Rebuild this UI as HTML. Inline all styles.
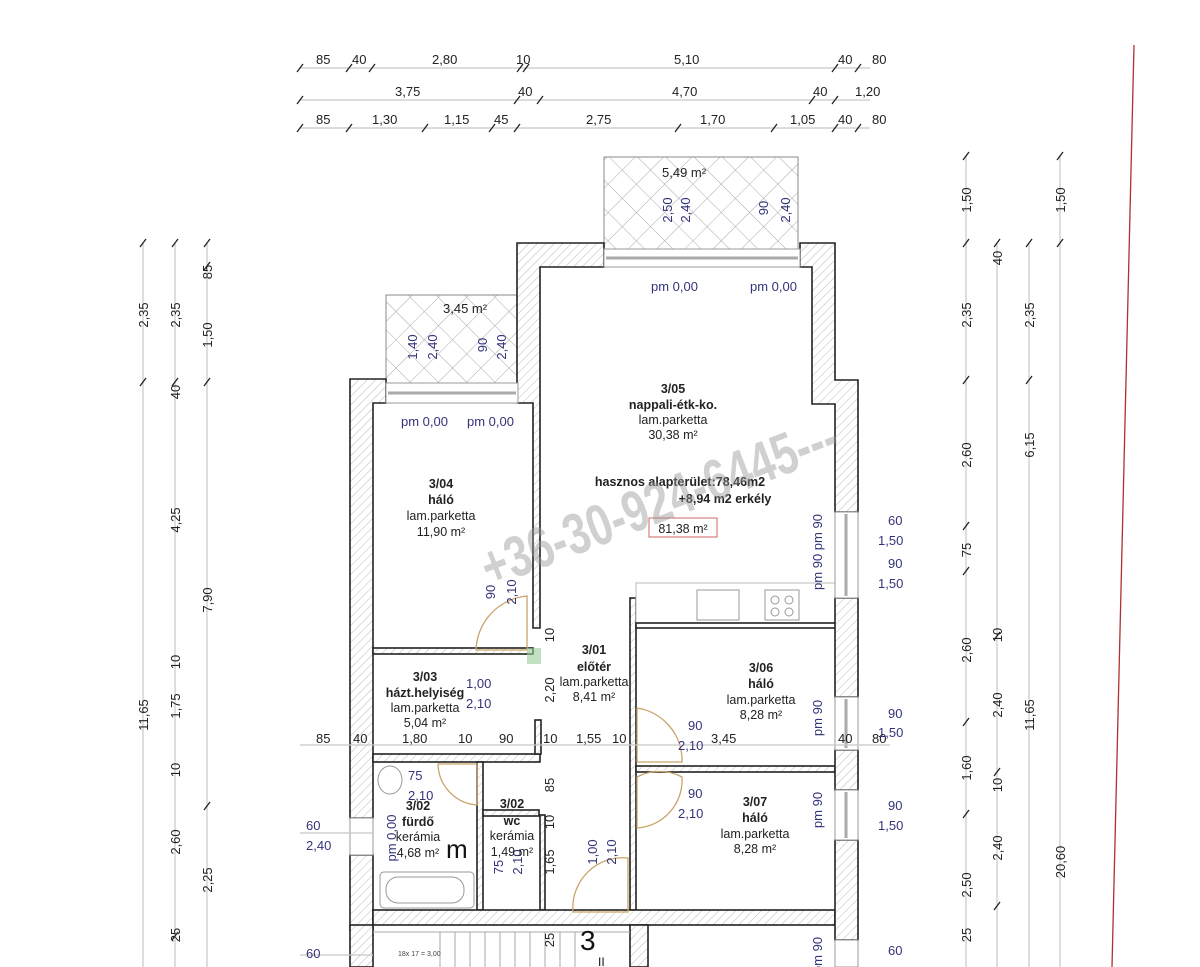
<!DOCTYPE html>
<html><head><meta charset="utf-8"><style>
html,body{margin:0;padding:0;background:#fff;}
svg{display:block;font-family:"Liberation Sans",sans-serif;}
.d{font-size:13px;fill:#222;}
.b{font-size:13px;fill:#33337a;}
.r{font-size:12.5px;fill:#222;text-anchor:middle;}
.rb{font-size:12.5px;fill:#222;text-anchor:middle;font-weight:bold;}
.dl{stroke:#c8c8c8;stroke-width:1.2;}
.tk{stroke:#222;stroke-width:1.3;}
.w{fill:url(#hatch);stroke:#222;stroke-width:1.6;}
.in{fill:none;stroke:#222;stroke-width:2;}
.dr{fill:none;stroke:#c9a36a;stroke-width:1.3;}
</style></head><body>
<svg width="1200" height="967" viewBox="0 0 1200 967" xmlns="http://www.w3.org/2000/svg">
<defs>
<pattern id="hatch" width="6" height="6" patternUnits="userSpaceOnUse" patternTransform="rotate(45)">
<rect width="6" height="6" fill="#fff"/><line x1="0" y1="0" x2="0" y2="6" stroke="#bbb" stroke-width="1"/></pattern>
<pattern id="cross" width="20" height="20" patternUnits="userSpaceOnUse" patternTransform="rotate(45)">
<rect width="20" height="20" fill="#fff"/><line x1="0" y1="0" x2="0" y2="20" stroke="#aaa" stroke-width="1"/><line x1="0" y1="0" x2="20" y2="0" stroke="#aaa" stroke-width="1"/></pattern>
</defs>

<!-- red line -->
<line x1="1134" y1="45" x2="1112" y2="967" stroke="#b03030" stroke-width="1.3"/>

<!-- top dimension rows -->
<g>
<line class="dl" x1="300" y1="68" x2="870" y2="68"/>
<line class="dl" x1="300" y1="100" x2="870" y2="100"/>
<line class="dl" x1="300" y1="128" x2="870" y2="128"/>
<g class="tk">
<path d="M297 72l6-8M346 72l6-8M369 72l6-8M517 72l6-8M523 72l6-8M832 72l6-8M855 72l6-8"/>
<path d="M297 104l6-8M514 104l6-8M537 104l6-8M809 104l6-8M832 104l6-8"/>
<path d="M297 132l6-8M346 132l6-8M422 132l6-8M489 132l6-8M514 132l6-8M675 132l6-8M771 132l6-8M832 132l6-8M855 132l6-8"/>
</g>
<g class="d">
<text x="316" y="64">85</text><text x="352" y="64">40</text><text x="432" y="64">2,80</text><text x="516" y="64">10</text><text x="674" y="64">5,10</text><text x="838" y="64">40</text><text x="872" y="64">80</text>
<text x="395" y="96">3,75</text><text x="518" y="96">40</text><text x="672" y="96">4,70</text><text x="813" y="96">40</text><text x="855" y="96">1,20</text>
<text x="316" y="124">85</text><text x="372" y="124">1,30</text><text x="444" y="124">1,15</text><text x="494" y="124">45</text><text x="586" y="124">2,75</text><text x="700" y="124">1,70</text><text x="790" y="124">1,05</text><text x="838" y="124">40</text><text x="872" y="124">80</text>
</g>
</g>

<!-- left vertical dims -->
<g>
<line class="dl" x1="143" y1="243" x2="143" y2="967"/>
<line class="dl" x1="175" y1="243" x2="175" y2="967"/>
<line class="dl" x1="207" y1="243" x2="207" y2="967"/>
<g class="tk"><path d="M140 247l6-8M140 386l6-8M172 247l6-8M172 386l6-8M204 247l6-8M204 270l6-8M204 386l6-8M204 810l6-8M172 940l6-8"/></g>
<g class="d">
<text transform="translate(148,315) rotate(-90)" text-anchor="middle">2,35</text>
<text transform="translate(148,715) rotate(-90)" text-anchor="middle">11,65</text>
<text transform="translate(180,315) rotate(-90)" text-anchor="middle">2,35</text>
<text transform="translate(180,392) rotate(-90)" text-anchor="middle">40</text>
<text transform="translate(180,520) rotate(-90)" text-anchor="middle">4,25</text>
<text transform="translate(180,662) rotate(-90)" text-anchor="middle">10</text>
<text transform="translate(180,706) rotate(-90)" text-anchor="middle">1,75</text>
<text transform="translate(180,770) rotate(-90)" text-anchor="middle">10</text>
<text transform="translate(180,842) rotate(-90)" text-anchor="middle">2,60</text>
<text transform="translate(180,935) rotate(-90)" text-anchor="middle">25</text>
<text transform="translate(212,272) rotate(-90)" text-anchor="middle">85</text>
<text transform="translate(212,335) rotate(-90)" text-anchor="middle">1,50</text>
<text transform="translate(212,600) rotate(-90)" text-anchor="middle">7,90</text>
<text transform="translate(212,880) rotate(-90)" text-anchor="middle">2,25</text>
</g>
</g>

<!-- right vertical dims -->
<g>
<line class="dl" x1="966" y1="155" x2="966" y2="967"/>
<line class="dl" x1="997" y1="243" x2="997" y2="967"/>
<line class="dl" x1="1029" y1="243" x2="1029" y2="967"/>
<line class="dl" x1="1060" y1="155" x2="1060" y2="967"/>
<g class="tk"><path d="M963 160l6-8M963 247l6-8M963 384l6-8M963 530l6-8M963 575l6-8M963 726l6-8M963 818l6-8M994 247l6-8M994 640l6-8M994 776l6-8M994 910l6-8M1026 247l6-8M1026 384l6-8M1057 160l6-8M1057 247l6-8"/></g>
<g class="d">
<text transform="translate(971,200) rotate(-90)" text-anchor="middle">1,50</text>
<text transform="translate(971,315) rotate(-90)" text-anchor="middle">2,35</text>
<text transform="translate(971,455) rotate(-90)" text-anchor="middle">2,60</text>
<text transform="translate(971,550) rotate(-90)" text-anchor="middle">75</text>
<text transform="translate(971,650) rotate(-90)" text-anchor="middle">2,60</text>
<text transform="translate(971,768) rotate(-90)" text-anchor="middle">1,60</text>
<text transform="translate(971,885) rotate(-90)" text-anchor="middle">2,50</text>
<text transform="translate(971,935) rotate(-90)" text-anchor="middle">25</text>
<text transform="translate(1002,258) rotate(-90)" text-anchor="middle">40</text>
<text transform="translate(1002,635) rotate(-90)" text-anchor="middle">10</text>
<text transform="translate(1002,705) rotate(-90)" text-anchor="middle">2,40</text>
<text transform="translate(1002,785) rotate(-90)" text-anchor="middle">10</text>
<text transform="translate(1002,848) rotate(-90)" text-anchor="middle">2,40</text>
<text transform="translate(1034,315) rotate(-90)" text-anchor="middle">2,35</text>
<text transform="translate(1034,445) rotate(-90)" text-anchor="middle">6,15</text>
<text transform="translate(1034,715) rotate(-90)" text-anchor="middle">11,65</text>
<text transform="translate(1065,200) rotate(-90)" text-anchor="middle">1,50</text>
<text transform="translate(1065,862) rotate(-90)" text-anchor="middle">20,60</text>
</g>
</g>

<!-- balconies -->
<rect x="604" y="157" width="194" height="92" fill="url(#cross)" stroke="#888" stroke-width="1"/>
<rect x="386" y="295" width="132" height="88" fill="url(#cross)" stroke="#888" stroke-width="1"/>
<text x="662" y="177" class="d" fill="#222">5,49 m²</text>
<text x="443" y="313" class="d">3,45 m²</text>
<g class="b">
<text transform="translate(672,210) rotate(-90)" text-anchor="middle">2,50</text>
<text transform="translate(690,210) rotate(-90)" text-anchor="middle">2,40</text>
<text transform="translate(768,208) rotate(-90)" text-anchor="middle">90</text>
<text transform="translate(790,210) rotate(-90)" text-anchor="middle">2,40</text>
<text transform="translate(417,347) rotate(-90)" text-anchor="middle">1,40</text>
<text transform="translate(437,347) rotate(-90)" text-anchor="middle">2,40</text>
<text transform="translate(487,345) rotate(-90)" text-anchor="middle">90</text>
<text transform="translate(506,347) rotate(-90)" text-anchor="middle">2,40</text>
</g>

<!-- walls -->
<!-- living room block -->
<path class="w" d="M517 243 H604 V267 H540 V628 H533 V403 H517 Z"/>
<path class="w" d="M800 243 H835 V380 H858 V512 H835 V404 H812 V267 H800 Z"/>
<rect x="604" y="249" width="196" height="18" fill="#fff" stroke="#999" stroke-width="1"/>
<line x1="606" y1="258" x2="798" y2="258" stroke="#aaa" stroke-width="3"/>
<!-- 3/04 block -->
<path class="w" d="M350 379 H386 V403 H373 V818 H350 Z"/>
<rect x="386" y="383" width="132" height="20" fill="#fff" stroke="#999"/>
<line x1="388" y1="393" x2="516" y2="393" stroke="#aaa" stroke-width="3"/>
<rect x="350" y="855" width="23" height="75" class="w"/>
<rect x="350" y="818" width="23" height="37" fill="#fff" stroke="#999"/>
<!-- inner walls -->
<rect x="373" y="648" width="160" height="6" class="w"/>
<rect x="373" y="754" width="167" height="8" class="w"/>
<rect x="535" y="720" width="6" height="34" class="w"/>
<rect x="477" y="762" width="6" height="148" class="w"/>
<rect x="483" y="810" width="56" height="6" class="w"/>
<rect x="540" y="815" width="5" height="95" class="w"/>
<rect x="630" y="598" width="6" height="312" class="w"/>
<rect x="636" y="583" width="200" height="45" fill="#fff" stroke="#bbb"/>
<rect x="636" y="623" width="200" height="5" fill="#fff" stroke="#222" stroke-width="1.6"/>
<rect x="636" y="766" width="199" height="6" class="w"/>
<rect x="373" y="910" width="462" height="15" class="w"/>
<rect x="350" y="925" width="23" height="42" class="w"/>
<rect x="630" y="925" width="18" height="42" class="w"/>
<!-- right wall -->
<rect x="835" y="598" width="23" height="99" class="w"/>
<rect x="835" y="750" width="23" height="40" class="w"/>
<rect x="835" y="840" width="23" height="100" class="w"/>
<rect x="835" y="512" width="23" height="86" fill="#fff" stroke="#999"/>
<rect x="835" y="697" width="23" height="53" fill="#fff" stroke="#999"/>
<rect x="835" y="790" width="23" height="50" fill="#fff" stroke="#999"/>
<rect x="835" y="940" width="23" height="27" fill="#fff" stroke="#999"/>
<line x1="846" y1="514" x2="846" y2="596" stroke="#aaa" stroke-width="3"/>
<line x1="846" y1="699" x2="846" y2="748" stroke="#aaa" stroke-width="3"/>
<line x1="846" y1="792" x2="846" y2="838" stroke="#aaa" stroke-width="3"/>

<!-- kitchen appliances -->
<rect x="697" y="590" width="42" height="30" fill="none" stroke="#999"/>
<rect x="765" y="590" width="34" height="30" fill="none" stroke="#999"/>
<circle cx="775" cy="600" r="4" fill="none" stroke="#999"/><circle cx="789" cy="600" r="4" fill="none" stroke="#999"/>
<circle cx="775" cy="612" r="4" fill="none" stroke="#999"/><circle cx="789" cy="612" r="4" fill="none" stroke="#999"/>

<!-- bathroom fixtures -->
<ellipse cx="390" cy="780" rx="12" ry="14" fill="none" stroke="#999"/>
<rect x="380" y="872" width="94" height="36" rx="4" fill="none" stroke="#999"/>
<rect x="386" y="877" width="78" height="26" rx="12" fill="none" stroke="#999"/>

<!-- doors -->
<path class="dr" d="M476 650 A56 56 0 0 1 527 596 V650 Z"/>
<path class="dr" d="M637 708 A53 53 0 0 1 682 762 H637 Z"/>
<path class="dr" d="M637 777 A48 48 0 0 1 682 777 A48 48 0 0 1 637 828 Z"/>
<path class="dr" d="M477 764 V805 A42 42 0 0 1 438 764 Z"/>
<path class="dr" d="M573 912 A50 50 0 0 1 628 858 V912 Z"/>
<rect x="527" y="648" width="14" height="16" fill="#9c9" opacity="0.6"/>

<!-- stairs -->
<g stroke="#aaa" stroke-width="1">
<line x1="373" y1="932" x2="630" y2="932"/>
<line x1="440" y1="932" x2="440" y2="967"/><line x1="455" y1="932" x2="455" y2="967"/>
<line x1="470" y1="932" x2="470" y2="967"/><line x1="485" y1="932" x2="485" y2="967"/>
<line x1="500" y1="932" x2="500" y2="967"/><line x1="515" y1="932" x2="515" y2="967"/>
<line x1="530" y1="932" x2="530" y2="967"/><line x1="545" y1="932" x2="545" y2="967"/>
<line x1="560" y1="932" x2="560" y2="967"/><line x1="575" y1="932" x2="575" y2="967"/>
</g>
<text x="580" y="950" font-size="28" fill="#111">3</text>
<text x="598" y="966" font-size="12" fill="#111">II</text>
<text x="398" y="956" font-size="7" fill="#444">18x 17 = 3,00</text>

<!-- inner dim lines (light) -->
<line class="dl" x1="300" y1="745" x2="890" y2="745"/>
<line class="dl" x1="300" y1="833" x2="373" y2="833"/>
<line class="dl" x1="300" y1="955" x2="373" y2="955"/>
<g class="d">
<text x="316" y="743">85</text><text x="353" y="743">40</text><text x="402" y="743">1,80</text><text x="458" y="743">10</text><text x="499" y="743">90</text><text x="543" y="743">10</text><text x="576" y="743">1,55</text><text x="612" y="743">10</text><text x="711" y="743">3,45</text><text x="838" y="743">40</text><text x="872" y="743">80</text>
</g>
<g class="b">
<text x="306" y="830">60</text><text x="306" y="850">2,40</text>
<text x="306" y="958">60</text>
<text x="888" y="525">60</text><text x="878" y="545">1,50</text><text x="888" y="568">90</text><text x="878" y="588">1,50</text>
<text x="888" y="718">90</text><text x="878" y="737">1,50</text>
<text x="888" y="810">90</text><text x="878" y="830">1,50</text>
<text x="888" y="955">60</text>
<text x="651" y="291">pm 0,00</text><text x="750" y="291">pm 0,00</text>
<text x="401" y="426">pm 0,00</text><text x="467" y="426">pm 0,00</text>
<text transform="translate(822,552) rotate(-90)" text-anchor="middle">pm 90  pm 90</text>
<text transform="translate(822,718) rotate(-90)" text-anchor="middle">pm 90</text>
<text transform="translate(822,810) rotate(-90)" text-anchor="middle">pm 90</text>
<text transform="translate(822,955) rotate(-90)" text-anchor="middle">pm 90</text>
<text transform="translate(495,592) rotate(-90)" text-anchor="middle">90</text>
<text transform="translate(516,592) rotate(-90)" text-anchor="middle">2,10</text>
<text x="466" y="688">1,00</text><text x="466" y="708">2,10</text>
<text x="688" y="730">90</text><text x="678" y="750">2,10</text>
<text x="688" y="798">90</text><text x="678" y="818">2,10</text>
<text x="408" y="780">75</text><text x="408" y="800">2,10</text>
<text transform="translate(396,838) rotate(-90)" text-anchor="middle">pm 0,00</text>
<text transform="translate(503,867) rotate(-90)" text-anchor="middle">75</text>
<text transform="translate(522,862) rotate(-90)" text-anchor="middle">2,10</text>
<text transform="translate(597,852) rotate(-90)" text-anchor="middle">1,00</text>
<text transform="translate(616,852) rotate(-90)" text-anchor="middle">2,10</text>
</g>
<g class="d">
<text transform="translate(554,635) rotate(-90)" text-anchor="middle">10</text>
<text transform="translate(554,690) rotate(-90)" text-anchor="middle">2,20</text>
<text transform="translate(554,785) rotate(-90)" text-anchor="middle">85</text>
<text transform="translate(554,822) rotate(-90)" text-anchor="middle">10</text>
<text transform="translate(554,862) rotate(-90)" text-anchor="middle">1,65</text>
<text transform="translate(554,940) rotate(-90)" text-anchor="middle">25</text>
</g>

<!-- room labels -->
<text x="673" y="393" class="rb">3/05</text>
<text x="673" y="409" class="rb">nappali-étk-ko.</text>
<text x="673" y="424" class="r">lam.parketta</text>
<text x="673" y="439" class="r">30,38 m²</text>
<text x="680" y="486" class="rb">hasznos alapterület:78,46m2</text>
<text x="725" y="503" class="rb">+8,94 m2 erkély</text>
<rect x="649" y="518" width="68" height="19" fill="none" stroke="#c66" stroke-width="1"/>
<text x="683" y="533" class="r" font-size="14">81,38 m²</text>

<text x="441" y="488" class="rb">3/04</text>
<text x="441" y="504" class="rb">háló</text>
<text x="441" y="520" class="r">lam.parketta</text>
<text x="441" y="536" class="r">11,90 m²</text>

<text x="425" y="681" class="rb">3/03</text>
<text x="425" y="697" class="rb">házt.helyiség</text>
<text x="425" y="712" class="r">lam.parketta</text>
<text x="425" y="727" class="r">5,04 m²</text>

<text x="594" y="654" class="rb">3/01</text>
<text x="594" y="671" class="rb">előtér</text>
<text x="594" y="686" class="r">lam.parketta</text>
<text x="594" y="701" class="r">8,41 m²</text>

<text x="761" y="672" class="rb">3/06</text>
<text x="761" y="688" class="rb">háló</text>
<text x="761" y="704" class="r">lam.parketta</text>
<text x="761" y="719" class="r">8,28 m²</text>

<text x="755" y="806" class="rb">3/07</text>
<text x="755" y="822" class="rb">háló</text>
<text x="755" y="838" class="r">lam.parketta</text>
<text x="755" y="853" class="r">8,28 m²</text>

<text x="418" y="810" class="rb">3/02</text>
<text x="418" y="826" class="rb">fürdő</text>
<text x="418" y="841" class="r">kerámia</text>
<text x="418" y="857" class="r">4,68 m²</text>
<text x="446" y="858" font-size="26" fill="#111">m</text>

<text x="512" y="808" class="rb">3/02</text>
<text x="512" y="825" class="rb">wc</text>
<text x="512" y="840" class="r">kerámia</text>
<text x="512" y="856" class="r">1,49 m²</text>

<!-- watermark -->
<text transform="translate(490,588) rotate(-21) scale(0.75,1)" font-size="58" font-weight="bold" fill="#999" opacity="0.45">+36-30-924-6445---</text>
</svg>
</body></html>
